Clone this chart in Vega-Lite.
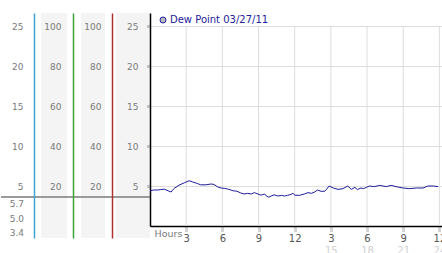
{
  "$schema": "https://vega.github.io/schema/vega-lite/v6.json",
  "padding": {"top": 13, "left": 0, "right": 0, "bottom": 0},
  "background": "white",
  "spacing": 0,
  "bounds": "flush",
  "resolve": {"scale": {"x": "independent", "y": "independent", "color": "independent"}, "legend": {"color": "independent"}},
  "config": {"view": {"stroke": null}, "text": {"font": "DejaVu Sans"}},
  "hconcat": [
    {
      "width": 40, "height": 225,
      "layer": [
        {
          "data": {"values": [{}]},
          "mark": {"type": "rule", "color": "#9a9a9a", "strokeWidth": 2},
          "encoding": {"y": {"datum": 3.625, "type": "quantitative", "scale": {"domain": [-1.5, 26.625], "nice": false, "zero": false}, "axis": null}}
        },
        {
          "data": {"values": [{"stat": "max", "value": 5.7}, {"stat": "current", "value": 5.0}, {"stat": "min", "value": 3.4}]},
          "mark": {"type": "text", "align": "right", "dx": 3, "fontSize": 9, "color": "#7a7a7a", "font": "DejaVu Sans"},
          "encoding": {
            "y": {"field": "stat", "type": "ordinal", "sort": null, "scale": {"type": "point", "range": [191, 220], "padding": 0}, "axis": null},
            "text": {"field": "value", "type": "quantitative", "format": ".1f"}
          }
        }
      ],
      "resolve": {"scale": {"y": "independent"}}
    },
    {
      "width": 26, "height": 225,
      "view": {"fill": "#f4f4f4", "stroke": null},
      "data": {"values": [{}]},
      "mark": {"type": "rule", "color": "#9a9a9a", "strokeWidth": 2},
      "encoding": {"y": {"datum": 3.625, "type": "quantitative", "scale": {"domain": [-1.5, 26.625], "nice": false, "zero": false},
        "axis": {"orient": "left", "offset": 7, "values": [5, 10, 15, 20, 25], "domainColor": "#3ea5d1", "domainWidth": 1.5, "ticks": false, "tickSize": 0, "labelPadding": 11, "labelFontSize": 9, "labelFont": "DejaVu Sans", "labelColor": "#7a7a7a", "grid": false, "title": null}}}
    },
    {
      "width": 14, "height": 225,
      "data": {"values": [{}]},
      "mark": {"type": "rule", "color": "#9a9a9a", "strokeWidth": 2},
      "encoding": {"y": {"datum": 3.625, "type": "quantitative", "scale": {"domain": [-1.5, 26.625], "nice": false, "zero": false}, "axis": null}}
    },
    {
      "width": 24, "height": 225,
      "view": {"fill": "#f4f4f4", "stroke": null},
      "data": {"values": [{}]},
      "mark": {"type": "rule", "color": "#9a9a9a", "strokeWidth": 2},
      "encoding": {"y": {"datum": 3.625, "type": "quantitative", "scale": {"domain": [-1.5, 26.625], "nice": false, "zero": false},
        "axis": {"orient": "left", "offset": 8, "values": [5, 10, 15, 20, 25], "labelExpr": "'' + datum.value * 4", "domainColor": "#3aa33a", "domainWidth": 1.5, "ticks": false, "tickSize": 0, "labelPadding": 12, "labelFontSize": 9, "labelFont": "DejaVu Sans", "labelColor": "#7a7a7a", "grid": false, "title": null}}}
    },
    {
      "width": 11, "height": 225,
      "data": {"values": [{}]},
      "mark": {"type": "rule", "color": "#9a9a9a", "strokeWidth": 2},
      "encoding": {"y": {"datum": 3.625, "type": "quantitative", "scale": {"domain": [-1.5, 26.625], "nice": false, "zero": false}, "axis": null}}
    },
    {
      "width": 34, "height": 225,
      "view": {"fill": "#f4f4f4", "stroke": null},
      "data": {"values": [{}]},
      "mark": {"type": "rule", "color": "#9a9a9a", "strokeWidth": 2},
      "encoding": {"y": {"datum": 3.625, "type": "quantitative", "scale": {"domain": [-1.5, 26.625], "nice": false, "zero": false},
        "axis": {"orient": "left", "offset": 4, "values": [5, 10, 15, 20, 25], "labelExpr": "'' + datum.value * 4", "domainColor": "#b03030", "domainWidth": 1.5, "ticks": false, "tickSize": 0, "labelPadding": 11, "labelFontSize": 9, "labelFont": "DejaVu Sans", "labelColor": "#7a7a7a", "grid": false, "title": null}}}
    },
    {
      "width": 293, "height": 213,
      "resolve": {"axis": {"x": "independent"}},
      "layer": [
        {
          "data": {"values": [{"hour": 3}, {"hour": 6}, {"hour": 9}, {"hour": 12}, {"hour": 15}, {"hour": 18}, {"hour": 21}, {"hour": 24}]},
          "mark": {"type": "rule", "color": "#dddddd", "strokeWidth": 1},
          "encoding": {
            "x": {"field": "hour", "type": "quantitative", "scale": {"domain": [0, 24.3], "nice": false, "zero": false},
              "axis": {"orient": "bottom", "values": [3, 6, 9, 12, 15, 18, 21, 24], "labelExpr": "'' + (datum.value > 12 ? datum.value - 12 : datum.value)", "domainColor": "black", "domainWidth": 1.5, "tickColor": "#aaa", "tickSize": 6, "tickWidth": 3, "tickDash": [1, 1], "labelColor": "#555", "labelFontSize": 10, "labelFont": "DejaVu Sans", "labelPadding": 1, "labelFlush": false, "labelOverlap": false, "grid": false,
                "title": "Hours", "titleAnchor": "start", "titleAlign": "left", "titleBaseline": "top", "titleX": 4, "titleY": 2, "titleFontSize": 9.5, "titleFontWeight": "normal", "titleColor": "#777", "titleFont": "DejaVu Sans"}},
            "y": {"datum": 0, "type": "quantitative", "scale": {"domain": [0, 26.625], "nice": false, "zero": false},
              "axis": {"orient": "left", "values": [5, 10, 15, 20, 25], "domainColor": "black", "domainWidth": 1.5, "tickColor": "#999", "tickSize": 4, "tickWidth": 3, "tickDash": [1, 1], "labelPadding": 8, "labelColor": "#7a7a7a", "labelFontSize": 9, "labelFont": "DejaVu Sans", "grid": true, "gridColor": "#dddddd", "title": null}},
            "y2": {"datum": 25}
          }
        },
        {
          "data": {"values": [
            {"hour": 0.0, "dew": 4.4}, {"hour": 0.3, "dew": 4.5}, {"hour": 0.6, "dew": 4.5}, {"hour": 0.9, "dew": 4.55}, {"hour": 1.2, "dew": 4.6},
            {"hour": 1.5, "dew": 4.4}, {"hour": 1.75, "dew": 4.25}, {"hour": 2.0, "dew": 4.7}, {"hour": 2.4, "dew": 5.1}, {"hour": 2.85, "dew": 5.4},
            {"hour": 3.25, "dew": 5.66}, {"hour": 3.55, "dew": 5.5}, {"hour": 3.95, "dew": 5.3}, {"hour": 4.2, "dew": 5.15}, {"hour": 4.65, "dew": 5.15},
            {"hour": 5.05, "dew": 5.25}, {"hour": 5.3, "dew": 5.2}, {"hour": 5.6, "dew": 4.9}, {"hour": 5.9, "dew": 4.75}, {"hour": 6.2, "dew": 4.7},
            {"hour": 6.5, "dew": 4.6}, {"hour": 6.9, "dew": 4.4}, {"hour": 7.2, "dew": 4.35}, {"hour": 7.5, "dew": 4.15}, {"hour": 7.8, "dew": 4.0},
            {"hour": 8.1, "dew": 4.08}, {"hour": 8.4, "dew": 4.0}, {"hour": 8.65, "dew": 4.17}, {"hour": 8.95, "dew": 4.0}, {"hour": 9.2, "dew": 3.85},
            {"hour": 9.5, "dew": 4.0}, {"hour": 9.65, "dew": 3.75}, {"hour": 9.85, "dew": 3.6}, {"hour": 10.05, "dew": 3.75}, {"hour": 10.3, "dew": 3.9},
            {"hour": 10.6, "dew": 3.75}, {"hour": 10.9, "dew": 3.83}, {"hour": 11.15, "dew": 3.75}, {"hour": 11.4, "dew": 3.83}, {"hour": 11.7, "dew": 3.95},
            {"hour": 11.85, "dew": 4.1}, {"hour": 12.0, "dew": 3.85}, {"hour": 12.4, "dew": 3.83}, {"hour": 12.8, "dew": 4.0}, {"hour": 13.1, "dew": 4.17},
            {"hour": 13.4, "dew": 4.08}, {"hour": 13.65, "dew": 4.25}, {"hour": 13.9, "dew": 4.5}, {"hour": 14.2, "dew": 4.33}, {"hour": 14.5, "dew": 4.35},
            {"hour": 14.65, "dew": 4.6}, {"hour": 14.85, "dew": 5.0}, {"hour": 15.2, "dew": 4.75}, {"hour": 15.6, "dew": 4.58}, {"hour": 16.0, "dew": 4.67},
            {"hour": 16.4, "dew": 5.0}, {"hour": 16.7, "dew": 4.58}, {"hour": 17.0, "dew": 4.83}, {"hour": 17.2, "dew": 4.55}, {"hour": 17.5, "dew": 4.75},
            {"hour": 17.7, "dew": 4.67}, {"hour": 17.95, "dew": 4.83}, {"hour": 18.2, "dew": 5.0}, {"hour": 18.6, "dew": 4.92}, {"hour": 19.05, "dew": 5.08},
            {"hour": 19.6, "dew": 4.92}, {"hour": 20.0, "dew": 5.08}, {"hour": 20.4, "dew": 4.92}, {"hour": 21.0, "dew": 4.75}, {"hour": 21.5, "dew": 4.67},
            {"hour": 22.1, "dew": 4.75}, {"hour": 22.65, "dew": 4.75}, {"hour": 23.05, "dew": 5.0}, {"hour": 23.5, "dew": 5.0}, {"hour": 23.9, "dew": 4.92}
          ]},
          "mark": {"type": "line", "strokeWidth": 1},
          "encoding": {
            "x": {"field": "hour", "type": "quantitative",
              "axis": {"orient": "bottom", "values": [15, 18, 21, 24], "domain": false, "ticks": false, "tickSize": 0, "grid": false, "labelColor": "#d0d0d0", "labelFontSize": 10, "labelFont": "DejaVu Sans", "offset": 17, "labelPadding": 2, "labelFlush": false, "labelOverlap": false, "title": null}},
            "y": {"field": "dew", "type": "quantitative",
              "axis": {"orient": "left", "values": [5, 10, 15, 20, 25], "domainColor": "black", "domainWidth": 1.5, "tickColor": "#999", "tickSize": 4, "tickWidth": 3, "tickDash": [1, 1], "labelPadding": 8, "labelColor": "#7a7a7a", "labelFontSize": 9, "labelFont": "DejaVu Sans", "grid": true, "gridColor": "#dddddd", "title": null}},
            "color": {"datum": "Dew Point 03/27/11", "type": "nominal", "scale": {"range": ["#1c1c9c"]},
              "legend": {"orient": "top-left", "offset": 2, "padding": 0, "title": null, "symbolType": "circle", "symbolSize": 36, "symbolOffset": 6, "symbolStrokeWidth": 1, "symbolFillColor": "#bbbbbb", "symbolStrokeColor": "#999999", "labelFont": "DejaVu Sans", "labelFontSize": 10, "labelColor": "#22229a", "labelOffset": 2,
                "encode": {"symbols": {"enter": {"fill": {"value": "#bbbbbb"}, "stroke": {"value": "#999999"}}, "update": {"fill": {"value": "#bbbbbb"}, "stroke": {"value": "#999999"}, "opacity": {"value": 1}}}}}}
          }
        }
      ]
    }
  ]
}
